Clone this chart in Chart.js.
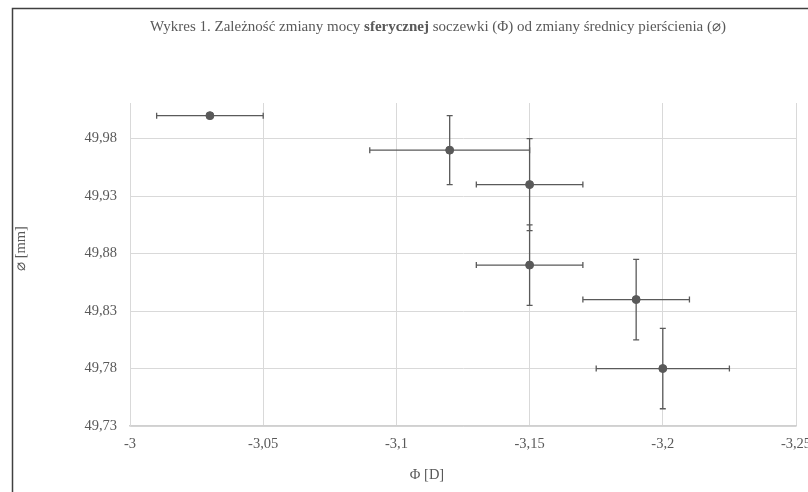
<!DOCTYPE html>
<html>
<head>
<meta charset="utf-8">
<script src="https://cdn.jsdelivr.net/npm/chart.js@4.4.0/dist/chart.umd.min.js"></script>
<style>
  html, body { margin: 0; padding: 0; background: #fff; overflow: hidden; width: 808px; height: 492px; }
  #wrap { position: absolute; left: 0; top: 0; width: 870px; height: 492px; }
</style>
</head>
<body>
<div id="wrap"><canvas id="myChart" width="870" height="492"></canvas></div>
<script>
// dane z wykresu
const phi = [-3.03, -3.12, -3.15, -3.15, -3.19, -3.2];
const diam = [50.0, 49.97, 49.94, 49.87, 49.84, 49.78];
const phiErr = [0.02, 0.03, 0.02, 0.02, 0.02, 0.025];
const diamErr = [0, 0.03, 0.04, 0.035, 0.035, 0.035];

const xTicks = [-3, -3.05, -3.1, -3.15, -3.2, -3.25];
const yTicks = [49.73, 49.78, 49.83, 49.88, 49.93, 49.98];

const titleParts = [
    ['Wykres 1. Zależność zmiany mocy ', false],
    ['sferycznej', true],
    [' soczewki (Φ) od zmiany średnicy pierścienia (⌀)', false]
];
const xTitle = 'Φ [D]';
const yTitle = '⌀ [mm]';

const FONT = '"Liberation Serif", "Times New Roman", "DejaVu Serif", serif';
const TXT = '#595959';

function fmt(v) {
    return String(Math.round(v * 1000) / 1000).replace('.', ',');
}

const errorBars = {
    id: 'errorBars',
    beforeDatasetsDraw(chart) {
        const c = chart.ctx;
        const xs = chart.scales.x, ys = chart.scales.y;
        c.save();
        c.strokeStyle = '#5a5a5a';
        c.lineWidth = 1.3;
        const cap = 3;
        for (let i = 0; i < phi.length; i++) {
            const px = xs.getPixelForValue(phi[i]);
            const py = ys.getPixelForValue(diam[i]);
            if (phiErr[i] > 0) {
                const x1 = xs.getPixelForValue(phi[i] - phiErr[i]);
                const x2 = xs.getPixelForValue(phi[i] + phiErr[i]);
                c.beginPath();
                c.moveTo(x1, py); c.lineTo(x2, py);
                c.moveTo(x1, py - cap); c.lineTo(x1, py + cap);
                c.moveTo(x2, py - cap); c.lineTo(x2, py + cap);
                c.stroke();
            }
            if (diamErr[i] > 0) {
                const y1 = ys.getPixelForValue(diam[i] - diamErr[i]);
                const y2 = ys.getPixelForValue(diam[i] + diamErr[i]);
                c.beginPath();
                c.moveTo(px, y1); c.lineTo(px, y2);
                c.moveTo(px - cap, y1); c.lineTo(px + cap, y1);
                c.moveTo(px - cap, y2); c.lineTo(px + cap, y2);
                c.stroke();
            }
        }
        c.restore();
    }
};

const decor = {
    id: 'decor',
    afterDraw(chart) {
        const c = chart.ctx;
        const a = chart.chartArea;
        c.save();
        // ramka
        c.strokeStyle = '#404040';
        c.lineWidth = 1.5;
        c.beginPath();
        c.moveTo(12.5, 500);
        c.lineTo(12.5, 8.5);
        c.lineTo(870, 8.5);
        c.stroke();

        // tytul z pogrubionym slowem
        c.fillStyle = TXT;
        c.textBaseline = 'middle';
        c.textAlign = 'left';
        let total = 0;
        titleParts.forEach(p => {
            c.font = (p[1] ? 'bold ' : '') + '15px ' + FONT;
            total += c.measureText(p[0]).width;
        });
        let x = 438 - total / 2;
        titleParts.forEach(p => {
            c.font = (p[1] ? 'bold ' : '') + '15px ' + FONT;
            c.fillText(p[0], x, 27);
            x += c.measureText(p[0]).width;
        });

        // tytuly osi
        c.font = '14.5px ' + FONT;
        c.textAlign = 'center';
        c.fillText(xTitle, (a.left + a.right) / 2 - 36, a.bottom + 49);
        c.translate(a.left - 109, (a.top + a.bottom) / 2 - 16);
        c.rotate(-Math.PI / 2);
        c.fillText(yTitle, 0, 0);
        c.restore();
    }
};

const ctx = document.getElementById('myChart');

const myChart = new Chart(ctx, {
    type: 'scatter',
    data: {
        datasets: [{
            label: 'pomiary',
            data: phi.map((v, i) => ({ x: v, y: diam[i] })),
            backgroundColor: '#595959',
            borderColor: '#595959',
            pointRadius: 4,
            pointHoverRadius: 4,
            showLine: false
        }]
    },
    options: {
        responsive: false,
        animation: false,
        layout: {
            padding: { left: 0, top: 103, right: 74, bottom: 0 }
        },
        plugins: {
            legend: { display: false },
            title: { display: false },
            tooltip: { enabled: false }
        },
        scales: {
            x: {
                type: 'linear',
                reverse: true,
                min: -3.25,
                max: -3,
                afterBuildTicks: s => { s.ticks = xTicks.map(v => ({ value: v })); },
                afterFit: s => { s.height = 66; },
                ticks: {
                    color: TXT,
                    font: { family: FONT, size: 14.5 },
                    padding: 9,
                    maxRotation: 0,
                    callback: v => fmt(v)
                },
                grid: { color: '#d9d9d9', lineWidth: 1, drawTicks: false },
                border: { color: '#d0d0d0', width: 1.5 }
            },
            y: {
                type: 'linear',
                min: 49.73,
                max: 50.011,
                afterBuildTicks: s => { s.ticks = yTicks.map(v => ({ value: v })); },
                afterFit: s => { s.width = 130; },
                ticks: {
                    color: TXT,
                    font: { family: FONT, size: 14.5 },
                    padding: 13,
                    callback: v => fmt(v)
                },
                grid: { color: '#d9d9d9', lineWidth: 1, drawTicks: false },
                border: { color: '#d9d9d9', width: 1 }
            }
        }
    },
    plugins: [errorBars, decor]
});
</script>
</body>
</html>
